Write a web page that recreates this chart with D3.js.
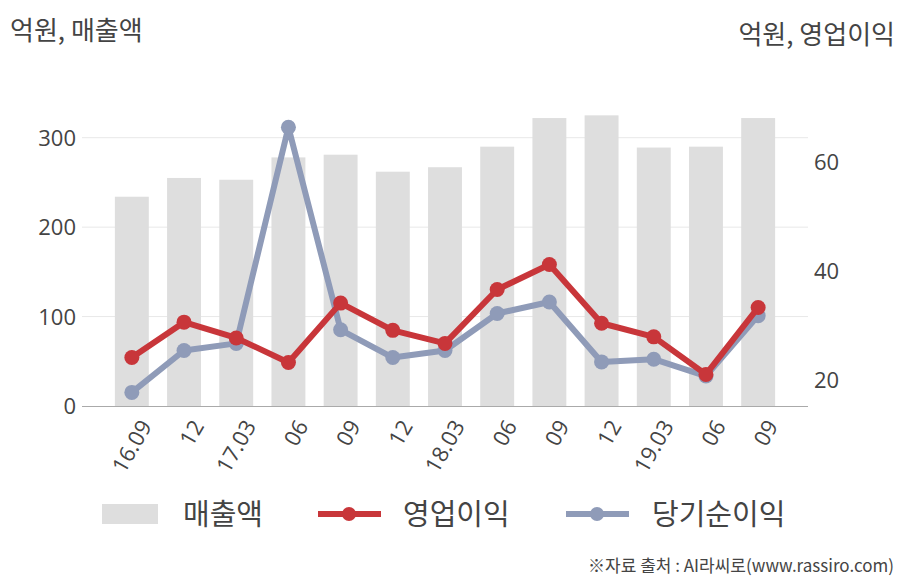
<!DOCTYPE html>
<html><head><meta charset="utf-8">
<script src="https://cdn.jsdelivr.net/npm/d3@7"></script>
<style>
body{margin:0;background:#fff;}
text{font-family:"Noto Sans CJK KR","Noto Sans",sans-serif;fill:#444;}
</style></head>
<body><svg id="c" width="908" height="580"></svg>
<script>
const categories = ["16.09","12","17.03","06","09","12","18.03","06","09","12","19.03","06","09"];
const sales = [234,255,253,278,281,262,267,290,322,325,289,290,322];
const opProfit = [24.0,30.5,27.6,23.1,34.0,29.0,26.6,36.5,41.1,30.3,27.8,20.9,33.2];
const netProfit = [17.6,25.3,26.6,66.3,29.1,24.0,25.3,32.1,34.2,23.2,23.7,20.6,31.7];
const leftTicks = [0,100,200,300];
const rightTicks = [20,40,60];

const svg = d3.select("#c");
const L=82, R=808, T=93, B=406;
const idx = categories.map((d,i)=>i);
const x = d3.scaleBand().domain(idx).range([L,R]).paddingInner(0.35).paddingOuter(0.63);
const yL = d3.scaleLinear().domain([0,350]).range([B,T]);
const yR = d3.scaleLinear().domain([15.1,72.6]).range([B,T]);

// gridlines
svg.append("g").selectAll("line").data(leftTicks.filter(d=>d>0)).join("line")
  .attr("x1",L).attr("x2",R).attr("y1",d=>yL(d)).attr("y2",d=>yL(d))
  .attr("stroke","#e8e8e8").attr("stroke-width",1);

// bars
svg.append("g").selectAll("rect").data(sales).join("rect")
  .attr("x",(d,i)=>x(i)).attr("width",x.bandwidth())
  .attr("y",d=>yL(d)).attr("height",d=>B-yL(d)).attr("fill","#dedede");

// axis line
svg.append("line").attr("x1",L).attr("x2",R).attr("y1",B+0.5).attr("y2",B+0.5).attr("stroke","#aaa").attr("stroke-width",1.2);

// left axis
const gl = svg.append("g").attr("transform",`translate(${L-6},0)`)
  .call(d3.axisLeft(yL).tickValues(leftTicks).tickSize(0).tickPadding(0));
gl.select(".domain").remove();
gl.selectAll("text").style("font-size","22px").attr("fill","#444").attr("dy","0.35em")
  .style("font-family","'Open Sans','Noto Sans',sans-serif");

// right axis
const gr = svg.append("g").attr("transform",`translate(${R+6},0)`)
  .call(d3.axisRight(yR).tickValues(rightTicks).tickSize(0).tickPadding(0));
gr.select(".domain").remove();
gr.selectAll("text").style("font-size","22px").attr("fill","#444").attr("dy","0.35em")
  .style("font-family","'Open Sans','Noto Sans',sans-serif");

// x axis labels
const gx = svg.append("g").attr("transform",`translate(0,${B})`)
  .call(d3.axisBottom(x).tickFormat(i=>categories[i]).tickSize(0).tickPadding(0));
gx.select(".domain").remove();
gx.selectAll("text").style("font-size","22px").attr("fill","#444")
  .style("font-family","'Open Sans','Noto Sans',sans-serif")
  .attr("text-anchor","end").attr("dy","0.35em")
  .attr("transform","translate(14,16) rotate(-60)");

// lines
const cx = i=>x(i)+x.bandwidth()/2;
function drawLine(data,color){
  const g = svg.append("g");
  g.append("path").datum(data)
    .attr("d",d3.line().x((d,i)=>cx(i)).y(d=>yR(d)))
    .attr("fill","none").attr("stroke",color).attr("stroke-width",6).attr("stroke-linejoin","round");
  g.selectAll("circle").data(data).join("circle")
    .attr("cx",(d,i)=>cx(i)).attr("cy",d=>yR(d)).attr("r",7.5).attr("fill",color);
}
drawLine(netProfit,"#8f9bb8");
drawLine(opProfit,"#c8363a");

// titles
svg.append("text").attr("x",10).attr("y",40).style("font-size","26px").text("억원, 매출액");
svg.append("text").attr("x",895).attr("y",44).attr("text-anchor","end").style("font-size","26px").text("억원, 영업이익");

// legend
const lg = svg.append("g");
lg.append("rect").attr("x",102).attr("y",504).attr("width",56).attr("height",20).attr("fill","#dedede");
lg.append("text").attr("x",183).attr("y",525).style("font-size","29px").text("매출액");
lg.append("line").attr("x1",318).attr("x2",381).attr("y1",514).attr("y2",514).attr("stroke","#c8363a").attr("stroke-width",6);
lg.append("circle").attr("cx",349).attr("cy",514).attr("r",7).attr("fill","#c8363a");
lg.append("text").attr("x",403).attr("y",525).style("font-size","29px").text("영업이익");
lg.append("line").attr("x1",566).attr("x2",629).attr("y1",514).attr("y2",514).attr("stroke","#8f9bb8").attr("stroke-width",6);
lg.append("circle").attr("cx",597).attr("cy",514).attr("r",7).attr("fill","#8f9bb8");
lg.append("text").attr("x",652).attr("y",525).style("font-size","29px").text("당기순이익");

svg.append("text").attr("x",894).attr("y",572).attr("text-anchor","end").style("font-size","17px").attr("fill","#555").text("※자료 출처 : AI라씨로(www.rassiro.com)");
</script></body></html>
